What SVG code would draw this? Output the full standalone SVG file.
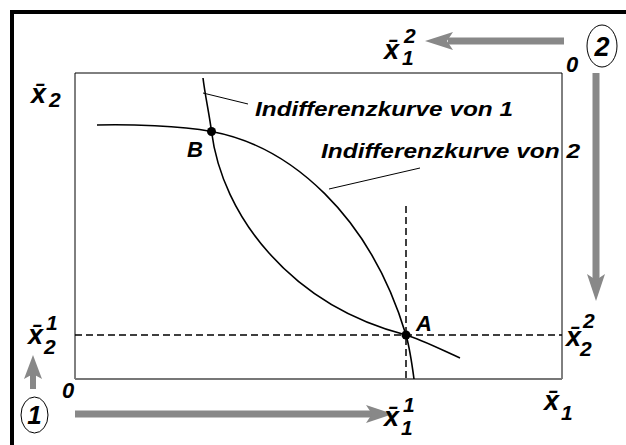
<svg xmlns="http://www.w3.org/2000/svg" width="626" height="445" viewBox="0 0 626 445">
<style>
.lbl{font-family:"Liberation Sans",Arial,sans-serif;font-style:italic;font-weight:bold;fill:#000}
.x{font-size:27px}
.d{font-size:21px}
.big{font-size:22px}
.cap{font-family:"Liberation Sans",Arial,sans-serif;font-style:italic;font-weight:bold;font-size:21px;fill:#000}
.curve{fill:none;stroke:#000;stroke-width:1.6}
.dash{fill:none;stroke:#000;stroke-width:1.5;stroke-dasharray:7 4}
.arrow{stroke:#888;stroke-width:7;fill:none}
.head{fill:#888}
.lead{stroke:#000;stroke-width:1;fill:none}
</style>
<rect width="626" height="445" fill="#fff"/>
<g id="frame">
<path d="M12,445 L12,12 L626,12" fill="none" stroke="#000" stroke-width="4"/>
</g>
<g id="box">
<path d="M75,379 L75,73 L562,73 L562,379" fill="none" stroke="#000" stroke-width="1"/>
<line x1="75" y1="379" x2="562" y2="379" stroke="#777" stroke-width="2"/>
</g>
<g id="connectors">
<line class="dash" x1="75" y1="335" x2="562" y2="335"/>
<line class="dash" x1="406" y1="206" x2="406" y2="379"/>
<path id="curve1" class="curve" d="M203,78 C205,95 209.5,115.5 211.5,131.5 C222,215 290,305 406,335 C420,339 440,349 460,358"/>
<path id="curve2" class="curve" d="M97,125 C130,124 180,126 211.5,131.5 C290,146 370,215 406,335 C410,349 412,364 414,379"/>
<line class="lead" x1="203" y1="93" x2="248" y2="104"/>
<line class="lead" x1="329" y1="189" x2="420" y2="168"/>
<line class="arrow" x1="564" y1="41" x2="448" y2="41"/>
<polygon class="head" points="425,41 453,32 447,41 453,50"/>
<line class="arrow" x1="596" y1="73" x2="596" y2="280"/>
<polygon class="head" points="596,301 587,274 596,280 605,274"/>
<line class="arrow" x1="75" y1="414" x2="372" y2="414"/>
<polygon class="head" points="393,414 366,405 372,414 366,423"/>
<line class="arrow" x1="33" y1="389" x2="33" y2="374" style="stroke-width:6"/>
<polygon class="head" points="33,355 24,379 33,374 42,379"/>
</g>
<g id="pointB">
<circle cx="211.5" cy="131.5" r="4.5" fill="#000"/>
<text class="lbl big" x="187" y="157">B</text>
</g>
<g id="pointA">
<circle cx="406" cy="335" r="4.5" fill="#000"/>
<text class="lbl big" x="416" y="331">A</text>
</g>
<g id="label-curve1">
<text class="cap" x="255" y="116" textLength="258" lengthAdjust="spacingAndGlyphs">Indifferenzkurve von 1</text>
</g>
<g id="label-curve2">
<text class="cap" x="321" y="158" textLength="259" lengthAdjust="spacingAndGlyphs">Indifferenzkurve von 2</text>
</g>
<g id="origin1">
<text class="lbl big" x="62" y="398">0</text>
<ellipse cx="34.5" cy="415" rx="13.5" ry="18" fill="none" stroke="#000" stroke-width="1"/>
<text class="lbl" x="34.5" y="424" font-size="26" text-anchor="middle">1</text>
</g>
<g id="origin2">
<text class="lbl big" x="566" y="72">0</text>
<ellipse cx="602" cy="46" rx="15" ry="21" fill="none" stroke="#000" stroke-width="1"/>
<text class="lbl" x="602" y="56" font-size="27" text-anchor="middle">2</text>
</g>
<g id="label-x2bar">
<text class="lbl x" x="31" y="103">x̄<tspan class="d" x="49" y="107">2</tspan></text>
</g>
<g id="label-x12bar">
<text class="lbl x" x="384" y="59">x̄<tspan class="d" x="404" y="43">2</tspan><tspan class="d" x="402" y="65">1</tspan></text>
</g>
<g id="label-x21bar">
<text class="lbl x" x="28" y="344">x̄<tspan class="d" x="46" y="330">1</tspan><tspan class="d" x="44" y="354">2</tspan></text>
</g>
<g id="label-x22bar">
<text class="lbl x" x="566" y="346">x̄<tspan class="d" x="583" y="328">2</tspan><tspan class="d" x="580" y="356">2</tspan></text>
</g>
<g id="label-x11bar">
<text class="lbl x" x="384" y="426">x̄<tspan class="d" x="403" y="412">1</tspan><tspan class="d" x="401" y="435">1</tspan></text>
</g>
<g id="label-x1bar">
<text class="lbl x" x="544" y="410">x̄<tspan class="d" x="561" y="420">1</tspan></text>
</g>
</svg>
